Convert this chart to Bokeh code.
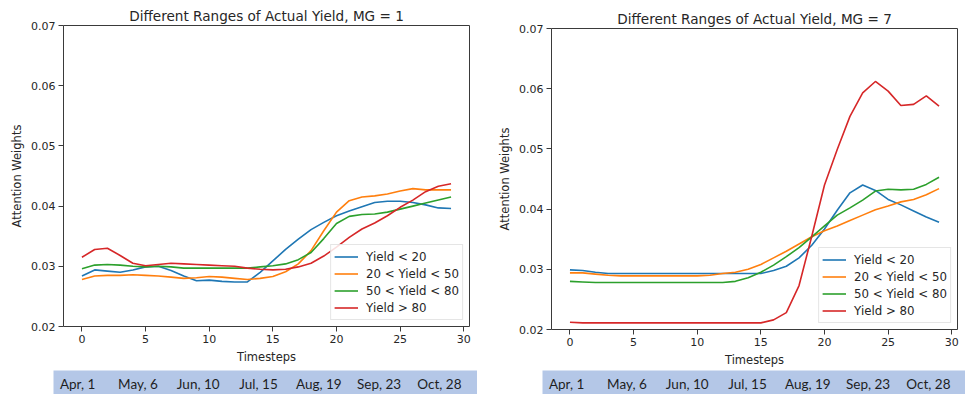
from bokeh.plotting import figure
from bokeh.models import Range1d, FixedTicker, Legend, LegendItem, Spacer, ColumnDataSource
from bokeh.layouts import row, column
from bokeh.embed import file_html
from bokeh.resources import INLINE
from bokeh.core.properties import value

timesteps = list(range(30))
series_names = ["Yield < 20", "20 < Yield < 50", "50 < Yield < 80", "Yield > 80"]
colors = ["#1f77b4", "#ff7f0e", "#2ca02c", "#d62728"]

# MG = 1
mg1_lt20 = [0.0284, 0.0294, 0.0292, 0.0290, 0.0294, 0.0299, 0.0300, 0.0293, 0.0284, 0.0276,
            0.0277, 0.0275, 0.0274, 0.0274, 0.0290, 0.0309, 0.0328, 0.0345, 0.0361, 0.0373,
            0.0384, 0.0392, 0.0399, 0.0406, 0.0408, 0.0408, 0.0406, 0.0402, 0.0397, 0.0396]
mg1_20_50 = [0.0278, 0.0284, 0.0285, 0.0285, 0.0286, 0.0285, 0.0284, 0.0282, 0.0280, 0.0281,
             0.0283, 0.0282, 0.0280, 0.0278, 0.0280, 0.0283, 0.0291, 0.0304, 0.0326, 0.0359,
             0.0390, 0.0409, 0.0415, 0.0417, 0.0420, 0.0425, 0.0429, 0.0427, 0.0427, 0.0427]
mg1_50_80 = [0.0296, 0.0302, 0.0303, 0.0302, 0.0300, 0.0299, 0.0300, 0.0299, 0.0297, 0.0297,
             0.0297, 0.0297, 0.0297, 0.0297, 0.0299, 0.0301, 0.0304, 0.0311, 0.0323, 0.0346,
             0.0371, 0.0383, 0.0386, 0.0387, 0.0390, 0.0395, 0.0400, 0.0405, 0.0410, 0.0415]
mg1_gt80 = [0.0315, 0.0328, 0.0330, 0.0318, 0.0305, 0.0301, 0.0303, 0.0305, 0.0304, 0.0303,
            0.0302, 0.0301, 0.0300, 0.0297, 0.0295, 0.0294, 0.0295, 0.0299, 0.0305, 0.0317,
            0.0332, 0.0348, 0.0362, 0.0372, 0.0384, 0.0398, 0.0410, 0.0424, 0.0433, 0.0437]

# MG = 7
mg7_lt20 = [0.0299, 0.0298, 0.0295, 0.0293, 0.0293, 0.0293, 0.0293, 0.0293, 0.0293, 0.0293,
            0.0293, 0.0293, 0.0293, 0.0293, 0.0293, 0.0293, 0.0298, 0.0305, 0.0319, 0.0340,
            0.0367, 0.0398, 0.0427, 0.0440, 0.0431, 0.0416, 0.0407, 0.0397, 0.0387, 0.0378]
mg7_20_50 = [0.0294, 0.0294, 0.0292, 0.0290, 0.0289, 0.0289, 0.0289, 0.0289, 0.0289, 0.0289,
             0.0289, 0.0290, 0.0293, 0.0295, 0.0300, 0.0308, 0.0319, 0.0330, 0.0342, 0.0354,
             0.0364, 0.0372, 0.0381, 0.0390, 0.0399, 0.0405, 0.0412, 0.0416, 0.0424, 0.0434]
mg7_50_80 = [0.0280, 0.0279, 0.0278, 0.0278, 0.0278, 0.0278, 0.0278, 0.0278, 0.0278, 0.0278,
             0.0278, 0.0278, 0.0278, 0.0280, 0.0286, 0.0295, 0.0307, 0.0321, 0.0336, 0.0354,
             0.0372, 0.0390, 0.0402, 0.0415, 0.0430, 0.0433, 0.0432, 0.0433, 0.0441, 0.0453]
mg7_gt80 = [0.0212, 0.0211, 0.0211, 0.0211, 0.0211, 0.0211, 0.0211, 0.0211, 0.0211, 0.0211,
            0.0211, 0.0211, 0.0211, 0.0211, 0.0211, 0.0211, 0.0216, 0.0228, 0.0273, 0.0355,
            0.0440, 0.0499, 0.0554, 0.0593, 0.0612, 0.0596, 0.0572, 0.0574, 0.0588, 0.0571]

date_labels = ["Apr, 1", "May, 6", "Jun, 10", "Jul, 15", "Aug, 19", "Sep, 23", "Oct, 28"]
x_ticks = [0, 5, 10, 15, 20, 25, 30]
y_ticks = [0.02, 0.03, 0.04, 0.05, 0.06, 0.07]

FONT = "DejaVu Sans"
TXT = "#262626"


def make_chart(title, series, width, bl, br, bt, bb):
    p = figure(width=width, height=370, output_backend="svg", toolbar_location=None,
               x_range=Range1d(-1.45, 30.45), y_range=Range1d(0.02, 0.07),
               min_border_left=bl, min_border_right=br, min_border_top=bt, min_border_bottom=bb,
               background_fill_color="white", border_fill_color="white")
    p.title.text = title
    p.title.align = "center"
    p.title.text_font = FONT
    p.title.text_font_size = "13.6px"
    p.title.text_font_style = "normal"
    p.title.text_color = TXT
    p.title.standoff = 4
    p.title.offset = 0
    p.outline_line_color = "#3a3a3a"
    p.outline_line_width = 1
    p.grid.visible = False
    for ax in (p.xaxis[0], p.yaxis[0]):
        ax.axis_line_color = None
        ax.major_tick_line_color = "#3a3a3a"
        ax.major_tick_out = 5
        ax.major_tick_in = 0
        ax.minor_tick_line_color = None
        ax.major_label_text_font = FONT
        ax.major_label_text_font_size = "11px"
        ax.major_label_text_color = TXT
        ax.axis_label_text_font = FONT
        ax.axis_label_text_font_size = "11.5px"
        ax.axis_label_text_font_style = "normal"
        ax.axis_label_text_color = TXT
        ax.major_label_standoff = 3
        ax.axis_label_standoff = 4
    p.xaxis[0].ticker = FixedTicker(ticks=x_ticks)
    p.yaxis[0].ticker = FixedTicker(ticks=y_ticks)
    p.xaxis[0].axis_label = "Timesteps"
    p.yaxis[0].axis_label = "Attention Weights"

    items = []
    for name, vals, col in zip(series_names, series, colors):
        src = ColumnDataSource(dict(x=timesteps, y=vals))
        r = p.line("x", "y", source=src, line_color=col, line_width=1.6)
        items.append(LegendItem(label=name, renderers=[r]))
    leg = Legend(items=items, location="bottom_right")
    leg.margin = 6
    leg.padding = 3
    leg.spacing = 0
    leg.label_height = 17
    leg.glyph_height = 17
    leg.glyph_width = 24
    leg.label_standoff = 8
    leg.label_text_font = FONT
    leg.label_text_font_size = "11.8px"
    leg.label_text_color = TXT
    leg.border_line_color = "#cccccc"
    leg.border_line_width = 1
    leg.background_fill_alpha = 0.85
    p.add_layout(leg)
    return p


def make_datebar(width):
    cell = 60.3
    p = figure(width=width, height=24, output_backend="svg", toolbar_location=None,
               x_range=Range1d(0, width / cell), y_range=Range1d(0, 1),
               x_axis_location=None, y_axis_location=None,
               min_border=0, min_border_left=0, min_border_right=0,
               min_border_top=0, min_border_bottom=0,
               background_fill_color="#b4c7e7", border_fill_color="#b4c7e7")
    p.outline_line_color = None
    p.grid.visible = False
    src = ColumnDataSource(dict(x=[i + 0.4 for i in range(len(date_labels))],
                                y=[0.45] * len(date_labels), t=date_labels))
    p.text("x", "y", text="t", source=src, text_align="center", text_baseline="middle",
           text_font=value("Lato"), text_font_size="13.5px", text_color="#1e1e1e")
    return p


p1 = make_chart("Different Ranges of Actual Yield, MG = 1",
                [mg1_lt20, mg1_20_50, mg1_50_80, mg1_gt80], 480, 63, 11, 25, 44)
p2 = make_chart("Different Ranges of Actual Yield, MG = 7",
                [mg7_lt20, mg7_20_50, mg7_50_80, mg7_gt80], 485, 71, 8, 28, 41)

d1 = make_datebar(424)
d2 = make_datebar(423)

col1 = column(p1, row(Spacer(width=53, height=24), d1, spacing=0), spacing=0)
col2 = column(p2, row(Spacer(width=62, height=24), d2, spacing=0), spacing=0)
layout = row(col1, col2, spacing=0)

open("out.html", "w").write(file_html(layout, INLINE))
